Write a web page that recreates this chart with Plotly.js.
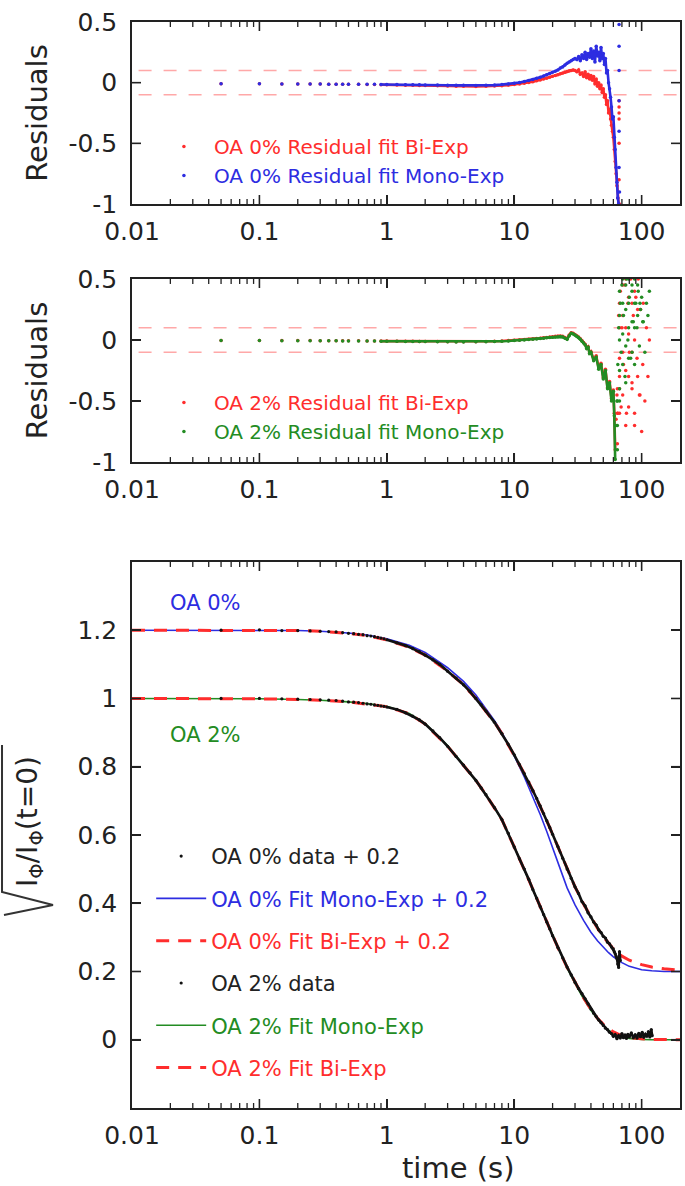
<!DOCTYPE html>
<html><head><meta charset="utf-8">
<script src="https://cdn.plot.ly/plotly-3.0.1.min.js"></script>
<style>html,body{margin:0;padding:0;background:#fff}</style>
</head><body>
<div id="chart" style="width:685px;height:1186px"></div>
<script>
// ---------- tick labels ----------
const xTickVals = [0.01, 0.1, 1, 10, 100];
const xTickText = ['0.01', '0.1', '1', '10', '100'];
const xMinorVals = [0.02,0.03,0.04,0.05,0.06,0.07,0.08,0.09,
  0.2,0.3,0.4,0.5,0.6,0.7,0.8,0.9, 2,3,4,5,6,7,8,9, 20,30,40,50,60,70,80,90];
const resTickVals = [-1, -0.5, 0, 0.5];
const resTickText = ['-1', '-0.5', '0', '0.5'];
const mainTickVals = [0, 0.2, 0.4, 0.6, 0.8, 1, 1.2];
const mainTickText = ['0', '0.2', '0.4', '0.6', '0.8', '1', '1.2'];
const thresholds = [0.1, -0.1];

// ---------- fits (bottom panel) ----------
const tFit = [0.01,0.02,0.05,0.1,0.2,0.3,0.5,0.7,1,1.5,
  2,3,4,5,6,7,8,10,12,14,
  16,18,20,23,26,30,35,40,45,50,
  55,60,65,70,80,90,100,120,150,200];
const fit0Mono = [1.2,1.2,1.2,1.2,1.199,1.197,1.192,1.186,1.175,1.156,
  1.135,1.09,1.05,1.01,0.97,0.935,0.90,0.832,0.77,0.712,
  0.66,0.61,0.565,0.5,0.445,0.395,0.35,0.315,0.29,0.27,
  0.255,0.243,0.233,0.226,0.215,0.209,0.205,0.202,0.2,0.2];
const fit0Bi = [1.2,1.2,1.2,1.2,1.199,1.197,1.191,1.184,1.172,1.15,
  1.127,1.08,1.04,1.0,0.963,0.93,0.897,0.835,0.78,0.73,
  0.685,0.642,0.602,0.548,0.5,0.448,0.398,0.358,0.327,0.302,
  0.282,0.266,0.254,0.245,0.233,0.225,0.22,0.213,0.208,0.204];
const fit2Mono = [1.0,1.0,1.0,0.999,0.997,0.995,0.99,0.985,0.977,0.956,
  0.927,0.862,0.806,0.76,0.719,0.68,0.644,0.566,0.498,0.44,
  0.388,0.343,0.303,0.252,0.21,0.165,0.12,0.086,0.06,0.042,
  0.028,0.019,0.013,0.009,0.004,0.002,0.001,0,0,0];
const fit2Bi = [1.0,1.0,1.0,0.999,0.997,0.995,0.99,0.984,0.976,0.955,
  0.925,0.86,0.805,0.76,0.718,0.68,0.645,0.565,0.5,0.441,
  0.39,0.345,0.305,0.254,0.212,0.168,0.123,0.089,0.063,0.045,
  0.032,0.023,0.017,0.012,0.007,0.004,0.003,0.001,0,0];

// ---------- data (bottom panel) ----------
const tData0 = [0.05,0.1,0.15,0.2,0.25,0.3,0.35,0.4,0.45,0.5,
  0.55,0.6,0.65,0.7,0.75,0.8,0.85,0.9,0.95,1.0,
  1.2,1.4,1.6,1.8,2.0,2.3,2.6,3.0,3.5,4,
  4.5,5,5.5,6,7,8,9,10,11,12,
  13,14,15,16,17,18,19,20,22,24,
  26,28,30,32,34,36,38,40,42,44,
  46,48,50,52,54,56,58,60,61,62,
  63,64,65,66,67,68];
const data0 = [1.2,1.201,1.199,1.199,1.198,1.197,1.196,1.195,1.193,1.191,
  1.19,1.188,1.187,1.184,1.183,1.181,1.179,1.177,1.175,1.172,
  1.163,1.155,1.146,1.137,1.127,1.113,1.1,1.08,1.06,1.04,
  1.02,1.0,0.981,0.963,0.93,0.897,0.865,0.835,0.806,0.78,
  0.755,0.73,0.707,0.685,0.663,0.642,0.622,0.602,0.566,0.532,
  0.5,0.473,0.448,0.428,0.405,0.392,0.372,0.36,0.345,0.336,
  0.322,0.314,0.303,0.298,0.286,0.281,0.272,0.266,0.258,0.252,
  0.245,0.238,0.222,0.212,0.258,0.232];
const tData2 = [0.05,0.1,0.15,0.2,0.25,0.3,0.35,0.4,0.45,0.5,
  0.55,0.6,0.65,0.7,0.75,0.8,0.85,0.9,0.95,1.0,
  1.2,1.4,1.6,1.8,2.0,2.3,2.6,3.0,3.5,4,
  4.5,5,5.5,6,7,8,9,10,11,12,
  13,14,15,16,17,18,19,20,22,24,
  26,28,30,32,34,36,38,40,42,44,
  46,48,50,52,54,56,58,60,62,64,
  66,68,70,72,74,76,78,80,83,86,
  89,92,95,98,101,104,107,110,113,116,
  119,121];
const data2 = [1.0,1.0,0.999,0.998,0.997,0.996,0.995,0.994,0.992,0.99,
  0.989,0.988,0.986,0.984,0.983,0.981,0.98,0.978,0.977,0.975,
  0.968,0.958,0.948,0.937,0.925,0.905,0.885,0.86,0.83,0.805,
  0.782,0.76,0.738,0.718,0.68,0.645,0.605,0.565,0.53,0.5,
  0.47,0.44,0.415,0.39,0.367,0.345,0.325,0.305,0.27,0.24,
  0.213,0.19,0.168,0.15,0.135,0.12,0.105,0.09,0.078,0.068,
  0.058,0.05,0.042,0.034,0.03,0.022,0.018,0.01,0.015,0.003,
  0.012,0.005,0.018,0.006,0.014,0.004,0.016,0.008,0.02,0.006,
  0.015,0.005,0.019,0.009,0.022,0.007,0.016,0.01,0.024,0.008,
  0.03,0.012];

// ---------- residuals OA 0% (top panel) ----------
const tRes0 = [0.05,0.1,0.15,0.2,0.25,0.3,0.35,0.4,0.45,0.5,
  0.6,0.7,0.8,0.9,1.0,1.2,1.4,1.6,1.8,2,
  2.5,3,3.5,4,5,6,7,8,9,10,
  11,12,13,14,15,16,17,18,19,20,
  21,22,23,24,25,26,27,28,29,30,
  31,32,33,34,35,36,37,38,39,40,
  41,42,43,44,45,46,47,48,49,50,
  51,52,53,54,55,56,57,58,59,60,
  61,62,63,64,65,66,66.5,66.5,66.5,66.5,
  66.5,66.5,67];
const res0Mono = [-0.008,-0.009,-0.01,-0.01,-0.011,-0.011,-0.012,-0.012,-0.012,-0.013,
  -0.013,-0.014,-0.014,-0.015,-0.015,-0.016,-0.017,-0.018,-0.018,-0.019,
  -0.02,-0.021,-0.022,-0.022,-0.023,-0.022,-0.02,-0.016,-0.011,-0.005,
  0.002,0.01,0.018,0.027,0.036,0.045,0.055,0.065,0.075,0.085,
  0.095,0.105,0.12,0.13,0.145,0.16,0.17,0.18,0.19,0.2,
  0.19,0.215,0.18,0.23,0.2,0.25,0.19,0.24,0.21,0.28,
  0.2,0.26,0.17,0.3,0.22,0.25,0.18,0.29,0.2,0.24,
  0.15,0.2,0.08,0.1,0.0,-0.05,-0.12,-0.2,-0.3,-0.28,
  -0.45,-0.55,-0.7,-0.82,-0.95,-1.0,0.48,0.3,0.1,-0.15,
  -0.4,-0.7,-0.9];
const res0Bi = [-0.008,-0.009,-0.01,-0.01,-0.011,-0.011,-0.012,-0.012,-0.013,-0.013,
  -0.014,-0.015,-0.016,-0.017,-0.018,-0.02,-0.021,-0.022,-0.023,-0.024,
  -0.026,-0.028,-0.029,-0.03,-0.032,-0.03,-0.028,-0.025,-0.02,-0.015,
  -0.01,-0.004,0.002,0.008,0.015,0.022,0.03,0.037,0.045,0.052,
  0.06,0.066,0.073,0.08,0.086,0.092,0.098,0.1,0.105,0.1,
  0.09,0.105,0.07,0.08,0.05,0.09,0.04,0.07,0.03,0.06,
  0.02,0.05,-0.01,0.03,-0.03,0.0,-0.05,-0.02,-0.08,-0.05,
  -0.12,-0.1,-0.18,-0.15,-0.25,-0.22,-0.3,-0.35,-0.4,-0.45,
  -0.55,-0.65,-0.75,-0.85,-0.95,-1.0,-0.2,-0.25,-0.15,-0.3,
  -0.5,-0.8,-1.0];

// ---------- residuals OA 2% (middle panel) ----------
const tRes2 = [0.05,0.1,0.15,0.2,0.25,0.3,0.35,0.4,0.45,0.5,
  0.6,0.7,0.8,0.9,1.0,1.2,1.4,1.6,1.8,2,
  2.5,3,3.5,4,5,6,7,8,9,10,
  11,12,13,14,15,16,17,18,19,20,
  21,22,23,24,25,26,27,28,29,30,
  31,32,33,34,35,36,37,38,39,40,
  42,44,46,48,50,52,54,56,58,60,
  61,62,63,64,65,66,67,68,69,70,
  72,74,76,78,80,82,84,86,88,90,
  92,94,96,98,100,103,106,109,112,115,
  64.5,64.5,64.5,67,67,67,67,67,71,71,
  71,71,75,75,75,75,79,79,79,79,
  84,84,84,88,88,88,93,93,97,102];
const res2Mono = [-0.005,-0.005,-0.006,-0.006,-0.006,-0.007,-0.007,-0.007,-0.008,-0.008,
  -0.008,-0.009,-0.009,-0.01,-0.01,-0.011,-0.012,-0.012,-0.013,-0.013,
  -0.014,-0.015,-0.016,-0.016,-0.015,-0.014,-0.012,-0.01,-0.008,-0.005,
  -0.003,0.0,0.003,0.006,0.009,0.012,0.015,0.018,0.02,0.022,
  0.025,0.027,0.028,0.025,0.015,0.005,0.035,0.055,0.05,0.04,
  0.03,0.02,0.005,-0.01,-0.025,-0.04,-0.07,-0.06,-0.11,-0.1,
  -0.17,-0.14,-0.24,-0.2,-0.32,-0.25,-0.4,-0.35,-0.5,-0.42,
  -0.62,-0.98,-0.7,-0.5,-0.2,0.1,-0.4,0.3,-0.1,0.45,
  0.2,-0.3,0.5,0.0,0.35,-0.15,0.45,0.15,-0.2,0.3,
  0.1,0.4,-0.05,0.25,0.35,0.15,-0.1,0.3,0.2,0.4,
  -0.9,-0.7,-0.5,0.4,0.2,0.0,-0.25,-0.5,0.5,0.3,
  0.05,-0.2,0.45,0.25,-0.05,-0.35,0.5,0.3,0.1,-0.15,
  0.4,0.15,-0.1,0.5,0.3,0.1,0.45,0.2,0.3,0.15];
const res2Bi = [-0.004,-0.004,-0.005,-0.005,-0.005,-0.006,-0.006,-0.006,-0.007,-0.007,
  -0.007,-0.008,-0.008,-0.009,-0.009,-0.01,-0.011,-0.011,-0.012,-0.012,
  -0.013,-0.014,-0.015,-0.015,-0.014,-0.012,-0.01,-0.008,-0.005,-0.002,
  0.0,0.003,0.006,0.009,0.012,0.015,0.018,0.021,0.024,0.027,
  0.03,0.032,0.033,0.03,0.02,0.01,0.04,0.06,0.055,0.045,
  0.035,0.025,0.01,-0.005,-0.02,-0.035,-0.065,-0.055,-0.105,-0.095,
  -0.16,-0.13,-0.23,-0.19,-0.31,-0.24,-0.39,-0.34,-0.48,-0.41,
  -0.6,-0.9,-0.65,-0.45,-0.6,0.2,-0.3,0.4,-0.55,0.1,
  -0.2,0.45,-0.6,0.3,-0.1,0.5,-0.35,0.2,-0.7,0.35,
  -0.15,0.5,-0.45,0.25,-0.75,0.3,-0.5,0.1,-0.3,0.0,
  -0.85,-0.6,-0.4,0.3,0.1,-0.15,-0.4,-0.6,0.45,0.2,
  -0.1,-0.45,0.5,0.1,-0.25,-0.7,0.35,0.05,-0.3,-0.55,
  0.3,-0.1,-0.4,0.4,0.0,-0.6,0.25,-0.3,-0.45,-0.2];

// ---------- styling ----------
const RED = 'rgb(255,45,45)';
const BLUE = 'rgb(45,45,225)';
const GREEN = 'rgb(35,140,35)';
const FONT = 'DejaVu Sans';
const AXC = '#222';
const W = 685, H = 1186, M = { l: 132, r: 5, t: 22, b: 78 };
const PW = W - M.l - M.r, PH = H - M.t - M.b;
const X_RANGE = [-2, Math.log10(200)];
const domTop = [0.8324, 1], domMid = [0.5948, 0.7634], domBot = [0, 0.5028];

function span(color, txt) { return '<span style="color:' + color + '">' + txt + '</span>'; }
function subset(xs, ys, tmin, tmax) {
  const x = [], y = [];
  xs.forEach((t, i) => { if (t >= tmin && t <= tmax) { x.push(t); y.push(ys[i]); } });
  return { x, y };
}

const traces = [];
function addResidual(xs, ys, color, name, xa, ya, lg, tmax) {
  const s = subset(xs, ys, 0.9, tmax);
  traces.push({ x: s.x, y: s.y, xaxis: xa, yaxis: ya, mode: 'lines', showlegend: false,
    line: { color: color, width: 2.6 }, hoverinfo: 'skip' });
  traces.push({ x: xs, y: ys, xaxis: xa, yaxis: ya, mode: 'markers', name: span(color, name),
    legend: lg, marker: { color: color, size: 3.5 } });
}
addResidual(tRes0, res0Bi, RED, 'OA 0% Residual fit Bi-Exp', 'x', 'y', 'legend', 66);
addResidual(tRes0, res0Mono, BLUE, 'OA 0% Residual fit Mono-Exp', 'x', 'y', 'legend', 66);
addResidual(tRes2, res2Bi, RED, 'OA 2% Residual fit Bi-Exp', 'x2', 'y2', 'legend2', 62);
addResidual(tRes2, res2Mono, GREEN, 'OA 2% Residual fit Mono-Exp', 'x2', 'y2', 'legend2', 62);

// bottom panel
traces.push({ x: tFit, y: fit0Mono, xaxis: 'x3', yaxis: 'y3', mode: 'lines', legend: 'legend3', legendrank: 2,
  name: span(BLUE, 'OA 0% Fit Mono-Exp + 0.2'), line: { color: BLUE, width: 1.6 } });
traces.push({ x: tFit, y: fit0Bi, xaxis: 'x3', yaxis: 'y3', mode: 'lines', legend: 'legend3', legendrank: 3,
  name: span(RED, 'OA 0% Fit Bi-Exp + 0.2'), line: { color: RED, width: 3, dash: '13px,9px' } });
traces.push({ x: tFit, y: fit2Mono, xaxis: 'x3', yaxis: 'y3', mode: 'lines', legend: 'legend3', legendrank: 5,
  name: span(GREEN, 'OA 2% Fit Mono-Exp'), line: { color: GREEN, width: 1.6 } });
traces.push({ x: tFit, y: fit2Bi, xaxis: 'x3', yaxis: 'y3', mode: 'lines', legend: 'legend3', legendrank: 6,
  name: span(RED, 'OA 2% Fit Bi-Exp'), line: { color: RED, width: 3, dash: '13px,9px' } });

function addData(xs, ys, name, rank) {
  const s = subset(xs, ys, 1.0, 1000);
  traces.push({ x: s.x, y: s.y, xaxis: 'x3', yaxis: 'y3', mode: 'lines', showlegend: false,
    line: { color: '#111', width: 2.6 }, hoverinfo: 'skip' });
  traces.push({ x: xs, y: ys, xaxis: 'x3', yaxis: 'y3', mode: 'markers', legend: 'legend3', legendrank: rank,
    name: span('#222', name), marker: { color: '#111', size: 3.2 } });
}
addData(tData0, data0, 'OA 0% data + 0.2', 1);
addData(tData2, data2, 'OA 2% data', 4);

function xAxis(anchor) {
  return {
    type: 'log', range: X_RANGE, anchor: anchor,
    tickmode: 'array', tickvals: xTickVals, ticktext: xTickText,
    ticks: 'inside', ticklen: 9, tickwidth: 1.6, tickcolor: AXC,
    showline: true, linecolor: AXC, linewidth: 1.8, mirror: 'allticks',
    showgrid: false, zeroline: false, ticklabelstandoff: 4,
    tickfont: { size: 25, family: FONT, color: '#222' }
  };
}
function yAxis(domain, range, vals, text, anchor) {
  return {
    domain: domain, range: range, anchor: anchor,
    tickmode: 'array', tickvals: vals, ticktext: text,
    ticks: 'inside', ticklen: 9, tickwidth: 1.6, tickcolor: AXC,
    showline: true, linecolor: AXC, linewidth: 1.8, mirror: 'allticks',
    showgrid: false, zeroline: false, ticklabelstandoff: 8,
    tickfont: { size: 25, family: FONT, color: '#222' }
  };
}

const shapes = [];
[['x', 'y'], ['x2', 'y2']].forEach(([xa, ya]) => {
  thresholds.forEach(v => {
    shapes.push({ type: 'line', xref: xa + ' domain', yref: ya, x0: 0.012, x1: 1, y0: v, y1: v,
      layer: 'below', line: { color: 'rgba(255,110,110,0.6)', width: 1.6, dash: '13px,12px' } });
  });
});
// frame tick marks on all four sides, placed in paper units from the tick arrays
const panels = [
  { dom: domTop, yr: [-1, 0.5], yv: resTickVals },
  { dom: domMid, yr: [-1, 0.5], yv: resTickVals },
  { dom: domBot, yr: [-0.2, 1.4], yv: mainTickVals }
];
const xPaper = v => (Math.log10(v) - X_RANGE[0]) / (X_RANGE[1] - X_RANGE[0]);
panels.forEach(p => {
  const addX = (v, len, w) => {
    const px = xPaper(v), f = len / PH;
    shapes.push({ type: 'line', xref: 'paper', yref: 'paper', x0: px, x1: px, y0: p.dom[0], y1: p.dom[0] + f,
      line: { color: AXC, width: w } });
    shapes.push({ type: 'line', xref: 'paper', yref: 'paper', x0: px, x1: px, y0: p.dom[1], y1: p.dom[1] - f,
      line: { color: AXC, width: w } });
  };
  xTickVals.filter(v => v > 0.01).forEach(v => addX(v, 9, 1.6));
  xMinorVals.forEach(v => addX(v, 5, 1.3));
  p.yv.filter(v => v > p.yr[0] && v < p.yr[1]).forEach(v => {
    const py = p.dom[0] + (v - p.yr[0]) / (p.yr[1] - p.yr[0]) * (p.dom[1] - p.dom[0]);
    const f = 9 / PW;
    shapes.push({ type: 'line', xref: 'paper', yref: 'paper', x0: 0, x1: f, y0: py, y1: py, line: { color: AXC, width: 1.6 } });
    shapes.push({ type: 'line', xref: 'paper', yref: 'paper', x0: 1, x1: 1 - f, y0: py, y1: py, line: { color: AXC, width: 1.6 } });
  });
});
// radical sign of the bottom y-axis title
shapes.push({ type: 'path', xref: 'paper', yref: 'paper',
  path: 'M -0.2372 0.3343 L -0.2372 0.1989 L -0.1442 0.1869 L -0.2336 0.1777',
  line: { color: '#333', width: 2 } });

const legendBase = { bgcolor: 'rgba(0,0,0,0)', borderwidth: 0, xanchor: 'left', yanchor: 'top',
  itemwidth: 50, itemclick: false, itemdoubleclick: false, traceorder: 'normal' };

const layout = {
  width: W, height: H,
  margin: M,
  font: { family: FONT, size: 20, color: '#222' },
  showlegend: true,
  xaxis: xAxis('y'), xaxis2: xAxis('y2'), xaxis3: xAxis('y3'),
  yaxis: Object.assign(yAxis(domTop, [-1, 0.5], resTickVals, resTickText, 'x'),
    { title: { text: 'Residuals', font: { size: 29, family: FONT, color: '#222' }, standoff: 12 } }),
  yaxis2: Object.assign(yAxis(domMid, [-1, 0.5], resTickVals, resTickText, 'x2'),
    { title: { text: 'Residuals', font: { size: 29, family: FONT, color: '#222' }, standoff: 12 } }),
  yaxis3: yAxis(domBot, [-0.2, 1.4], mainTickVals, mainTickText, 'x3'),
  legend: Object.assign({}, legendBase, { x: 0.04, y: 0.9033, font: { size: 20, family: FONT } }),
  legend2: Object.assign({}, legendBase, { x: 0.04, y: 0.6676, font: { size: 20, family: FONT } }),
  legend3: Object.assign({}, legendBase, { x: 0.035, y: 0.2505, font: { size: 21, family: FONT },
    traceorder: 'grouped', tracegroupgap: 12 }),
  shapes: shapes,
  annotations: [
    { text: span(BLUE, 'OA 0%'), xref: 'paper', yref: 'paper', x: 0.0657, y: 0.465, xanchor: 'left', yanchor: 'middle',
      showarrow: false, font: { size: 21, family: FONT } },
    { text: span(GREEN, 'OA 2%'), xref: 'paper', yref: 'paper', x: 0.0657, y: 0.3435, xanchor: 'left', yanchor: 'middle',
      showarrow: false, font: { size: 21, family: FONT } },
    { text: 'time (s)', xref: 'paper', yref: 'paper', x: 0.595, y: -0.0552, xanchor: 'center', yanchor: 'middle',
      showarrow: false, font: { size: 29, family: FONT, color: '#222' } },
    { text: 'I<sub>Φ</sub>/I<sub>Φ</sub>(t=0)', xref: 'paper', yref: 'paper', x: -0.186, y: 0.2634, textangle: -90,
      xanchor: 'center', yanchor: 'middle', showarrow: false, font: { size: 28, family: FONT, color: '#222' } }
  ]
};

// give every bottom-panel trace its own legend group so tracegroupgap spaces the items
traces.forEach((t, i) => { if (t.legend === 'legend3') t.legendgroup = 'g' + i; });

Plotly.newPlot('chart', traces, layout, { staticPlot: true, displayModeBar: false });
</script>
</body></html>
